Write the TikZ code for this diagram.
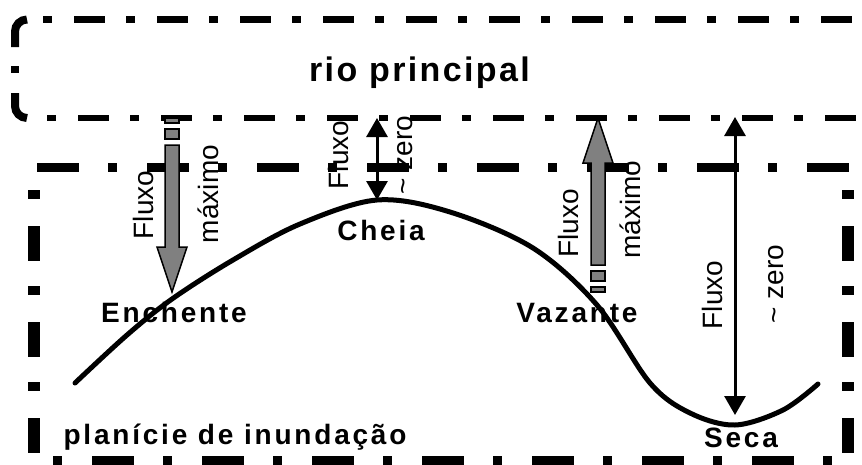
\documentclass[tikz,border=0pt]{standalone}
\usepackage{fontspec}
\setmainfont{Liberation Sans}
\newfontfamily\lblfont[LetterSpace=10]{Liberation Sans}
\newfontfamily\riofont[LetterSpace=7]{Liberation Sans}
\usetikzlibrary{arrows.meta}
\definecolor{arrowgrey}{HTML}{808080}
\tikzset{
  rioH/.style={line width=6.5pt, dash pattern=on 9pt off 22pt on 31pt off 21pt},
  rioV/.style={line width=8pt},
  planH/.style={line width=9pt, dash pattern=on 42pt off 29pt on 9pt off 30pt},
  planHb/.style={line width=9pt, dash pattern=on 9pt off 30pt on 42pt off 29pt},
  planV/.style={line width=12pt, dash pattern=on 9pt off 27pt on 35pt off 25pt},
  boldlbl/.style={font={\fontsize{28}{30}\lblfont\bfseries}, inner sep=0pt, anchor=base},
  riolbl/.style={font={\fontsize{34}{36}\riofont\bfseries}, inner sep=0pt, anchor=base},
  vlbl/.style={font={\fontsize{28}{30}\selectfont}, inner sep=0pt, anchor=base, rotate=90},
  greyarrow/.style={fill=arrowgrey, draw=black, line width=1.5pt, line join=miter},
  thinarrow/.style={line width=3pt, {Triangle[length=19pt,width=21pt]}-{Triangle[length=19pt,width=21pt]}},
  curveline/.style={line width=5pt, line cap=round, line join=round},
  striped/.pic={
    \filldraw[greyarrow] (-7,0) rectangle (7,5);
    \filldraw[greyarrow] (-7,11) rectangle (7,21);
    \filldraw[greyarrow] (-7,27) -- (7,27) -- (7,129) -- (15,129) -- (0,174) -- (-15,129) -- (-7,129) -- cycle;
  }
}
\begin{document}
\begin{tikzpicture}[x=1pt,y=-1pt]
\useasboundingbox (0,0) rectangle (862,464);
\clip (0,0) rectangle (862,464);

% texts (below frame lines)
\node[riolbl] (rio) at (419.5,81) {rio principal};
\node[boldlbl] (planicie) at (235,444) {planície de inundação};
\node[boldlbl] (enchente) at (174,322) {Enchente};
\node[boldlbl] (cheiaLbl) at (381,240) {Cheia};
\node[boldlbl] (vazante) at (577,322) {Vazante};
\node[boldlbl] (seca) at (741,447) {Seca};

\node[vlbl] (fluxoA) at (153,205) {Fluxo};
\node[vlbl] (maxA) at (218,194) {máximo};
\node[vlbl] (fluxoB) at (348,155) {Fluxo};
\node[vlbl] (zeroB) at (412,155) {\char"007E\ zero};
\node[vlbl] (fluxoC) at (578,223.5) {Fluxo};
\node[vlbl] (maxC) at (640,209.5) {máximo};
\node[vlbl] (fluxoD) at (722,295) {Fluxo};
\node[vlbl] (zeroD) at (783,284) {\char"007E\ zero};

% rio principal frame
\draw[rioH] (43,19.5) -- (870,19.5);
\draw[rioH] (47,118) -- (870,118);
\draw[rioV] (27,19.5) .. controls (20.4,19.5) and (15,24.9) .. (15,31.5) -- (15,47);
\draw[rioV] (15,66) -- (15,73);
\draw[rioV] (15,93) -- (15,106) .. controls (15,112.6) and (20.4,118) .. (27,118);

% planície frame
\draw[planH] (37,167.5) -- (870,167.5);
\draw[planHb] (53,460) -- (870,460);
\draw[planV] (34,190) -- (34,453);
\draw[planV] (848,190) -- (848,453);

% hydrograph curve
\draw[curveline] plot[smooth, tension=0.55] coordinates {
  (75,383) (127,335) (172,299) (233,260) (300,224) (377,200) (450,212)
  (533,248) (597,305) (650,383) (690,413) (735,425) (783,410) (818,384)};

% coordinates for arrows
\coordinate (encTop) at (172,118);
\coordinate (vazBase) at (598,292);
\coordinate (cheiaTop) at (377,118);
\coordinate (cheiaPt) at (377,200);
\coordinate (secaTop) at (735,117);
\coordinate (secaPt) at (735,415);

\pic at (encTop) {striped};
\pic[yscale=-1] at (vazBase) {striped};
\draw[thinarrow] (cheiaTop) -- (cheiaPt);
\draw[thinarrow] (secaTop) -- (secaPt);
\end{tikzpicture}
\end{document}
